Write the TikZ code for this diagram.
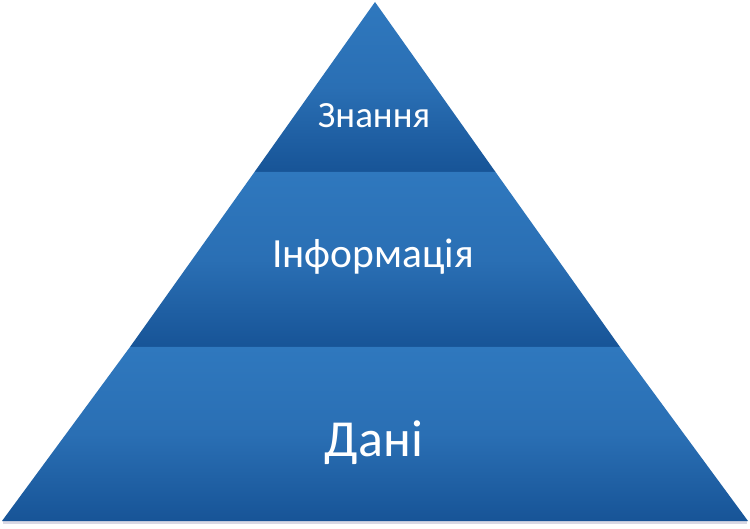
\documentclass[tikz,border=0pt]{standalone}
\usepackage{fontspec}
\setmainfont{Carlito}
\definecolor{bandtop}{HTML}{2F78BE}
\definecolor{bandmid}{HTML}{2A6FB4}
\definecolor{bandbot}{HTML}{175497}
\begin{document}
\begin{tikzpicture}[x=1pt,y=-1pt,
  band/.style={top color=bandtop,bottom color=bandbot,middle color=bandmid},
  lbl/.style={text=white,inner sep=0pt,anchor=base}]
\useasboundingbox (0,0) rectangle (750,529);
\fill[white] (0,0) rectangle (750,529);
% faint reflection under the base
\fill[blue!20!gray!25] (3,521) rectangle (747,524);
% bands
\shade[band] (375,2) -- (254.5,172) -- (495.5,172) -- cycle;
\shade[band] (254.5,172) -- (130,347) -- (620,347) -- (495.5,172) -- cycle;
\shade[band] (130,347) -- (2,521) -- (748,521) -- (620,347) -- cycle;
% labels
\node[lbl,font=\fontsize{37}{40}\selectfont] (znannia) at (374,128) {Знання};
\node[lbl,font=\fontsize{41.5}{44}\selectfont] (informatsiia) at (373,268) {Інформація};
\node[lbl,font=\fontsize{52}{56}\selectfont] (dani) at (374,456) {Дані};
\end{tikzpicture}
\end{document}
